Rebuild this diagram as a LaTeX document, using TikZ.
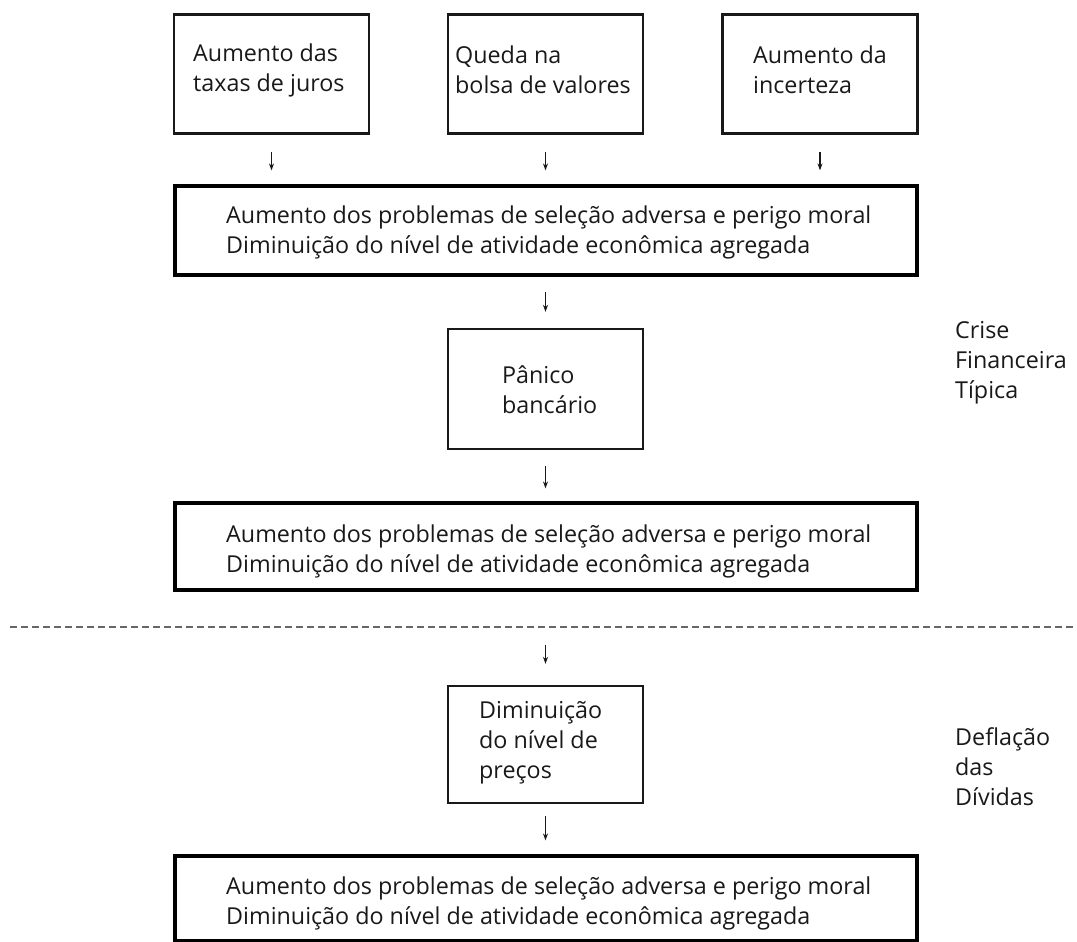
\documentclass[tikz,border=0pt]{standalone}
\usepackage{fontspec}
\setmainfont{Open Sans}
\usetikzlibrary{arrows.meta}
\begin{document}
\begin{tikzpicture}[x=1pt,y=-1pt,
  txt/.style={font=\fontsize{23.3}{30}\selectfont, text=black!90, anchor=west, align=left, inner sep=0pt},
  smallbox/.style={draw=black!90, line width=2.3pt, minimum width=195pt, minimum height=119pt, inner sep=0pt},
  bigbox/.style={draw=black, line width=3.2pt, minimum width=742pt, inner sep=0pt},
  arr/.style={draw=black!90, line width=1.3pt, -{Stealth[length=7pt,width=5pt]}},
  sep/.style={draw=black!60, line width=1.8pt, dash pattern=on 7pt off 4pt}
]
\useasboundingbox (0,0) rectangle (1077,942);
\fill[white] (0,0) rectangle (1077,942);

% top boxes
\node[smallbox] (b1) at (271.5,74) {};
\node[smallbox] (b2) at (545.5,74) {};
\node[smallbox] (b3) at (820,74) {};
\node[txt] (t1) at (193,70) {Aumento das\\taxas de juros};
\node[txt] (t2) at (455,70) {Queda na\\bolsa de valores};
\node[txt] (t3) at (753,70) {Aumento da\\incerteza};

% big box 1
\node[bigbox, minimum height=89pt] (g1) at (546,230.5) {};
\node[txt] (tg1) at (226,232) {Aumento dos problemas de seleção adversa e perigo moral\\Diminuição do nível de atividade econômica agregada};

% panico
\node[smallbox, minimum height=120pt] (p) at (545.5,389) {};
\node[txt] (tp) at (502,390) {Pânico\\bancário};

% big box 2
\node[bigbox, minimum height=87pt] (g2) at (546,546.5) {};
\node[txt] (tg2) at (226,551) {Aumento dos problemas de seleção adversa e perigo moral\\Diminuição do nível de atividade econômica agregada};

% separator
\coordinate (s1) at (10,627);
\coordinate (s2) at (1077,627);
\draw[sep] (s1) -- (s2);

% diminuicao
\node[smallbox, minimum height=117pt] (d) at (545.5,744.5) {};
\node[txt] (td) at (479,743) {Diminuição\\do nível de\\preços};

% big box 3
\node[bigbox, minimum height=85pt] (g3) at (546,898.5) {};
\node[txt] (tg3) at (226,903) {Aumento dos problemas de seleção adversa e perigo moral\\Diminuição do nível de atividade econômica agregada};

% side labels
\node[txt] (c1) at (955,363) {Crise\\Financeira\\Típica};
\node[txt] (c2) at (955,767) {Deflação\\das\\Dívidas};

% arrows
\draw[arr, shorten <=17pt, shorten >=14pt] (b1.south) -- (b1.south |- g1.north);
\draw[arr, shorten <=17pt, shorten >=14pt] (b2.south) -- (b2.south |- g1.north);
\draw[arr, shorten <=17pt, shorten >=14pt] (b3.south) -- (b3.south |- g1.north);
\draw[arr, shorten <=15pt, shorten >=16pt] (g1.south -| p.north) -- (p.north);
\draw[arr, shorten <=16pt, shorten >=13pt] (p.south) -- (p.south |- g2.north);
\draw[arr, shorten <=53pt, shorten >=21pt] (g2.south -| d.north) -- (d.north);
\draw[arr, shorten <=12pt, shorten >=14pt] (d.south) -- (d.south |- g3.north);
\end{tikzpicture}
\end{document}
